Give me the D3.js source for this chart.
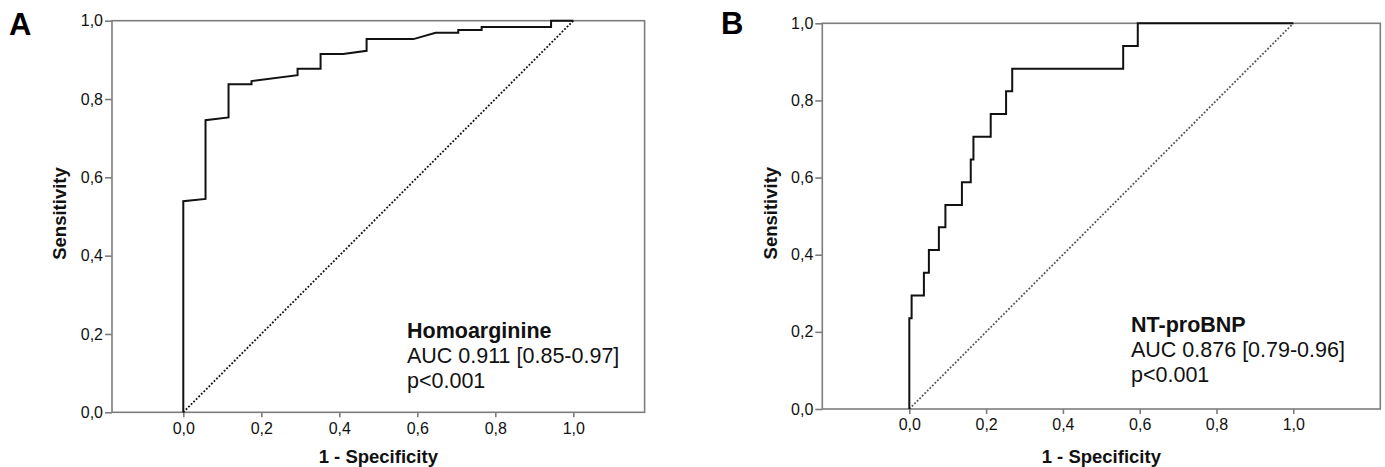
<!DOCTYPE html>
<html>
<head>
<meta charset="utf-8">
<script src="https://cdn.jsdelivr.net/npm/d3@7/dist/d3.min.js"></script>
<style>
  html, body { margin: 0; padding: 0; background: #fff; }
  svg { display: block; font-family: "Liberation Sans", Arial, sans-serif; }
</style>
</head>
<body>
<div id="chart"></div>
<script>
// Two ROC curves side by side (SPSS style): A = Homoarginine, B = NT-proBNP

const ticks = [0, 0.2, 0.4, 0.6, 0.8, 1.0]

// Panel A : Homoarginine
const aFpr = [0, 0, 0.057, 0.057, 0.116, 0.116, 0.175, 0.175, 0.293, 0.293, 0.352, 0.352,
  0.410, 0.470, 0.470, 0.590, 0.647, 0.705, 0.705, 0.765, 0.765, 0.943, 0.943, 1.0]
const aTpr = [0, 0.539, 0.545, 0.746, 0.753, 0.838, 0.838, 0.846, 0.861, 0.877, 0.877, 0.915,
  0.915, 0.923, 0.953, 0.953, 0.969, 0.969, 0.976, 0.976, 0.984, 0.984, 1.0, 1.0]
const aText = ["Homoarginine", "AUC 0.911 [0.85-0.97]", "p<0.001"]

// Panel B : NT-proBNP
const bFpr = [0, 0, 0.006, 0.006, 0.038, 0.038, 0.051, 0.051, 0.077, 0.077, 0.094, 0.094,
  0.137, 0.137, 0.160, 0.160, 0.167, 0.167, 0.212, 0.212, 0.252, 0.252, 0.268, 0.268,
  0.557, 0.557, 0.595, 0.595, 1.0]
const bTpr = [0, 0.235, 0.235, 0.294, 0.294, 0.353, 0.353, 0.412, 0.412, 0.471, 0.471, 0.529,
  0.529, 0.588, 0.588, 0.647, 0.647, 0.706, 0.706, 0.765, 0.765, 0.824, 0.824, 0.882,
  0.882, 0.941, 0.941, 1.0, 1.0]
const bText = ["NT-proBNP", "AUC 0.876 [0.79-0.96]", "p<0.001"]

const W = 1385, H = 467
const frameColor = "#7d7d7d"
const fmtTick = (d) => d.toFixed(1).replace(".", ",")

const svg = d3.select("#chart").append("svg")
  .attr("width", W).attr("height", H)
  .attr("viewBox", `0 0 ${W} ${H}`)

// layout par panneau (pixels mesurés sur la figure)
const panels = [
  {
    letter: "A", letterX: 9, letterY: 35,
    left: 112, right: 644.6, top: 20.7, bottom: 412.3, xPad: 0.1828,
    fpr: aFpr, tpr: aTpr, text: aText, textX: 407, textY: 338,
    diagColor: "#111", titleX: 66,
  },
  {
    letter: "B", letterX: 721, letterY: 34,
    left: 822.3, right: 1380.3, top: 23.3, bottom: 409, xPad: 0.2266,
    fpr: bFpr, tpr: bTpr, text: bText, textX: 1131, textY: 332,
    diagColor: "#555", titleX: 777,
  },
]

panels.forEach((p) => {
  const x = d3.scaleLinear().domain([-p.xPad, 1 + p.xPad]).range([p.left, p.right])
  const y = d3.scaleLinear().domain([0, 1]).range([p.bottom, p.top])
  const g = svg.append("g")

  // lettre du panneau
  g.append("text")
    .attr("x", p.letterX).attr("y", p.letterY)
    .attr("font-size", 31).attr("font-weight", 700).attr("fill", "#000")
    .text(p.letter)

  // cadre
  g.append("rect")
    .attr("x", p.left).attr("y", p.top)
    .attr("width", p.right - p.left).attr("height", p.bottom - p.top)
    .attr("fill", "none").attr("stroke", frameColor).attr("stroke-width", 1.6)

  // axes
  const xAxis = g.append("g")
    .attr("transform", `translate(0,${p.bottom})`)
    .call(d3.axisBottom(x).tickValues(ticks).tickFormat(fmtTick).tickSize(5).tickSizeOuter(0).tickPadding(5))
  const yAxis = g.append("g")
    .attr("transform", `translate(${p.left},0)`)
    .call(d3.axisLeft(y).tickValues(ticks).tickFormat(fmtTick).tickSize(7).tickSizeOuter(0).tickPadding(2))

  ;[xAxis, yAxis].forEach((a) => {
    a.select(".domain").remove()
    a.selectAll(".tick line").attr("stroke", frameColor).attr("stroke-width", 1.6)
    a.selectAll(".tick text")
      .attr("font-family", "Liberation Sans, Arial, sans-serif")
      .attr("font-size", 16).attr("fill", "#111")
  })

  // titres d'axes
  g.append("text")
    .attr("x", (p.left + p.right) / 2).attr("y", 463)
    .attr("text-anchor", "middle")
    .attr("font-size", 18.5).attr("font-weight", 700).attr("fill", "#111")
    .text("1 - Specificity")

  g.append("text")
    .attr("transform", `translate(${p.titleX},${(p.top + p.bottom) / 2 - 3}) rotate(-90)`)
    .attr("text-anchor", "middle")
    .attr("font-size", 18.5).attr("font-weight", 700).attr("fill", "#111")
    .text("Sensitivity")

  // diagonale de référence
  g.append("line")
    .attr("x1", x(0)).attr("y1", y(0)).attr("x2", x(1)).attr("y2", y(1))
    .attr("stroke", p.diagColor).attr("stroke-width", 1.8)
    .attr("stroke-dasharray", "1.8,1.8")

  // courbe ROC
  const pts = p.fpr.map((f, i) => [f, p.tpr[i]])
  g.append("path")
    .datum(pts)
    .attr("fill", "none").attr("stroke", "#111").attr("stroke-width", 2)
    .attr("stroke-linejoin", "miter")
    .attr("d", d3.line().x((d) => x(d[0])).y((d) => y(d[1])))

  // annotation
  const ann = g.append("text")
    .attr("x", p.textX).attr("y", p.textY)
    .attr("font-size", 21.5).attr("fill", "#111")
  p.text.forEach((t, i) => {
    ann.append("tspan")
      .attr("x", p.textX).attr("dy", i === 0 ? 0 : 25)
      .attr("font-weight", i === 0 ? 700 : 400)
      .text(t)
  })
})
</script>
</body>
</html>
